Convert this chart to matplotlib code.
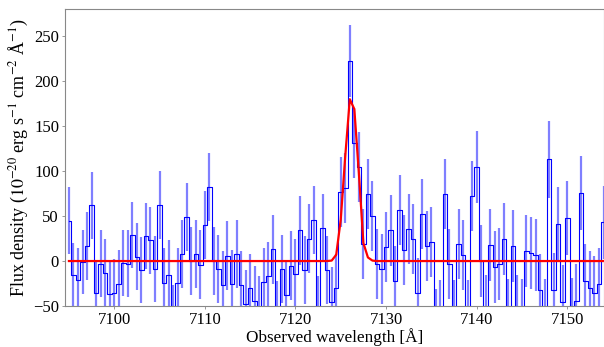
import numpy as np
import matplotlib
matplotlib.use("Agg")
import matplotlib.pyplot as plt

plt.rcParams['font.family'] = ['Liberation Serif', 'DejaVu Serif']
plt.rcParams['mathtext.fontset'] = 'stix'

# bin centres (Angstrom)
wave_start = 7095.0
bin_width = 0.5
flux = [45, -16, -21, -1, 17, 62, -36, -3, -13, -37,
        -35, -25, -2, -3, 29, 5, -10, 28, 23, -9,
        62, -24, -15, -65, -24, 8, 49, 0, 8, -4,
        40, 82, 0, -9, -27, 6, -26, 8, -27, -48,
        -30, -44, -55, -23, -17, 13, -60, -9, -38, -5,
        -14, 34, -10, 25, 46, -55, 37, -10, -45, -30,
        77, 81, 222, 131, 105, 19, 75, 50, -3, -9,
        16, 34, -22, 57, 12, 36, 25, -36, 52, 17,
        21, -70, -60, 75, -3, -60, 19, 7, -60, 72,
        105, 0, -55, 18, -7, -3, 25, -60, 17, -55,
        -60, 11, 9, 7, -32, -60, 113, -32, 41, -45,
        48, -60, -44, 76, -22, -30, -35, -26, 43]
err = [37, 36, 35, 36, 38, 37, 37, 37, 37, 37,
       37, 37, 37, 37, 37, 37, 37, 37, 37, 37,
       38, 38, 38, 38, 38, 38, 38, 38, 38, 38,
       38, 38, 38, 38, 38, 38, 38, 38, 38, 38,
       38, 38, 38, 38, 38, 38, 38, 38, 38, 38,
       38, 38, 38, 38, 38, 38, 38, 38, 38, 38,
       39, 39, 40, 39, 39, 39, 39, 39, 39, 39,
       39, 39, 39, 39, 39, 39, 39, 39, 39, 39,
       39, 39, 39, 39, 39, 39, 39, 39, 39, 39,
       40, 40, 40, 40, 40, 40, 40, 40, 40, 40,
       40, 40, 40, 40, 40, 40, 43, 41, 41, 41,
       41, 41, 41, 41, 41, 41, 41, 41, 41]
# fitted model sampled at bin centres (indices 58..67 carry the line, rest 0)
fit = [0.0] * len(flux)
fit_line_start = 58
fit_line = [0.5, 7, 46, 117, 180, 169, 98, 20, 4, 0.5]
for k, v in enumerate(fit_line):
    fit[fit_line_start + k] = v

wave = wave_start + bin_width * np.arange(len(flux))
flux = np.array(flux, float)
err = np.array(err, float)
fit = np.array(fit, float)

fig = plt.figure(figsize=(6.04, 3.47), dpi=100)
ax = fig.add_axes([65.3 / 604, 1 - 306 / 347, (603.5 - 65.3) / 604, (306 - 9.3) / 347])

ax.errorbar(wave, flux, yerr=err, fmt='none', ecolor='b', alpha=0.5, elinewidth=1.6)
ax.step(wave, flux, where='mid', color='b', lw=0.8)
ax.plot(wave, fit, color='r', lw=1.6)

ax.set_xlim(7094.6, 7154.0)
ax.set_ylim(-50, 280)
ax.set_xticks([7100, 7110, 7120, 7130, 7140, 7150])
ax.set_yticks([-50, 0, 50, 100, 150, 200, 250])
for s in ax.spines.values():
    s.set_color('#888888')
    s.set_linewidth(0.8)
ax.tick_params(direction='out', length=2.5, width=0.6, color='#888888', labelsize=12, pad=2)
ax.set_xlabel('Observed wavelength [Å]', fontsize=12.3, labelpad=0)
ax.set_ylabel(r'Flux density ($10^{-20}$ erg s$^{-1}$ cm$^{-2}$ Å$^{-1}$)', fontsize=13, labelpad=2)

fig.savefig('out.png', dpi=100)
